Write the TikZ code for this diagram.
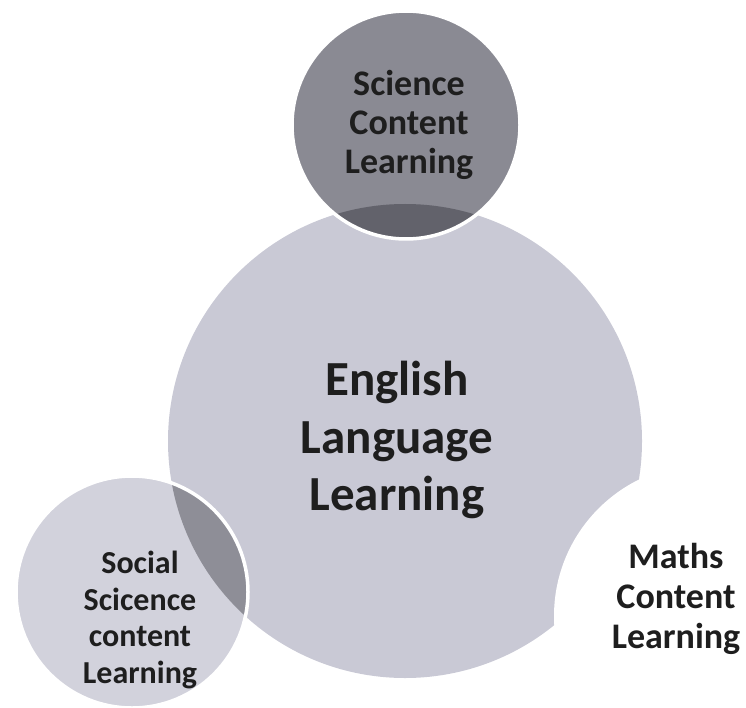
\documentclass[tikz,border=0pt]{standalone}
\usepackage{fontspec}
\setmainfont{Carlito}
\definecolor{ellfill}{RGB}{201,201,213}
\definecolor{scifill}{RGB}{138,138,147}
\definecolor{scilens}{RGB}{98,98,107}
\definecolor{socfill}{RGB}{210,210,220}
\definecolor{soclens}{RGB}{142,142,151}
\definecolor{txtcol}{RGB}{30,30,30}
\begin{document}
\begin{tikzpicture}[x=1pt,y=-1pt,
    topic/.style={circle,inner sep=0pt},
    ring/.style={draw=white,line width=3.5pt},
    lbl/.style={align=center,text=txtcol}]
    \useasboundingbox (0,0) rectangle (746,708);
    \node[topic,fill=ellfill,minimum size=474pt] (ell) at (405,441) {};
    \node[topic,fill=socfill,minimum size=232pt] (soc) at (132,592) {};
    \node[topic,fill=scifill,minimum size=228pt] (sci) at (406,125) {};
    \begin{scope}
    \clip (ell.center) circle[radius=237pt];
    \fill[scilens] (sci.center) circle[radius=114pt];
    \fill[soclens] (soc.center) circle[radius=116pt];
    \end{scope}
    \node[topic,fill=white,minimum size=304pt] (mat) at (706,616) {};
    \draw[ring] (sci.center) circle[radius=114pt];
    \draw[ring] (soc.center) circle[radius=116pt];
    \node[lbl,font=\fontsize{49}{57.5}\selectfont\bfseries] (ell-t) at (397,440) {English\\Language\\Learning};
    \node[lbl,font=\fontsize{36}{39}\selectfont\bfseries] (sci-t) at (409,125) {Science\\Content\\Learning};
    \node[lbl,font=\fontsize{32}{36.5}\selectfont\bfseries] (soc-t) at (140,620) {Social\\Scicence\\content\\Learning};
    \node[lbl,font=\fontsize{36}{40}\selectfont\bfseries] (mat-t) at (676,599) {Maths\\Content\\Learning};
\end{tikzpicture}
\end{document}
